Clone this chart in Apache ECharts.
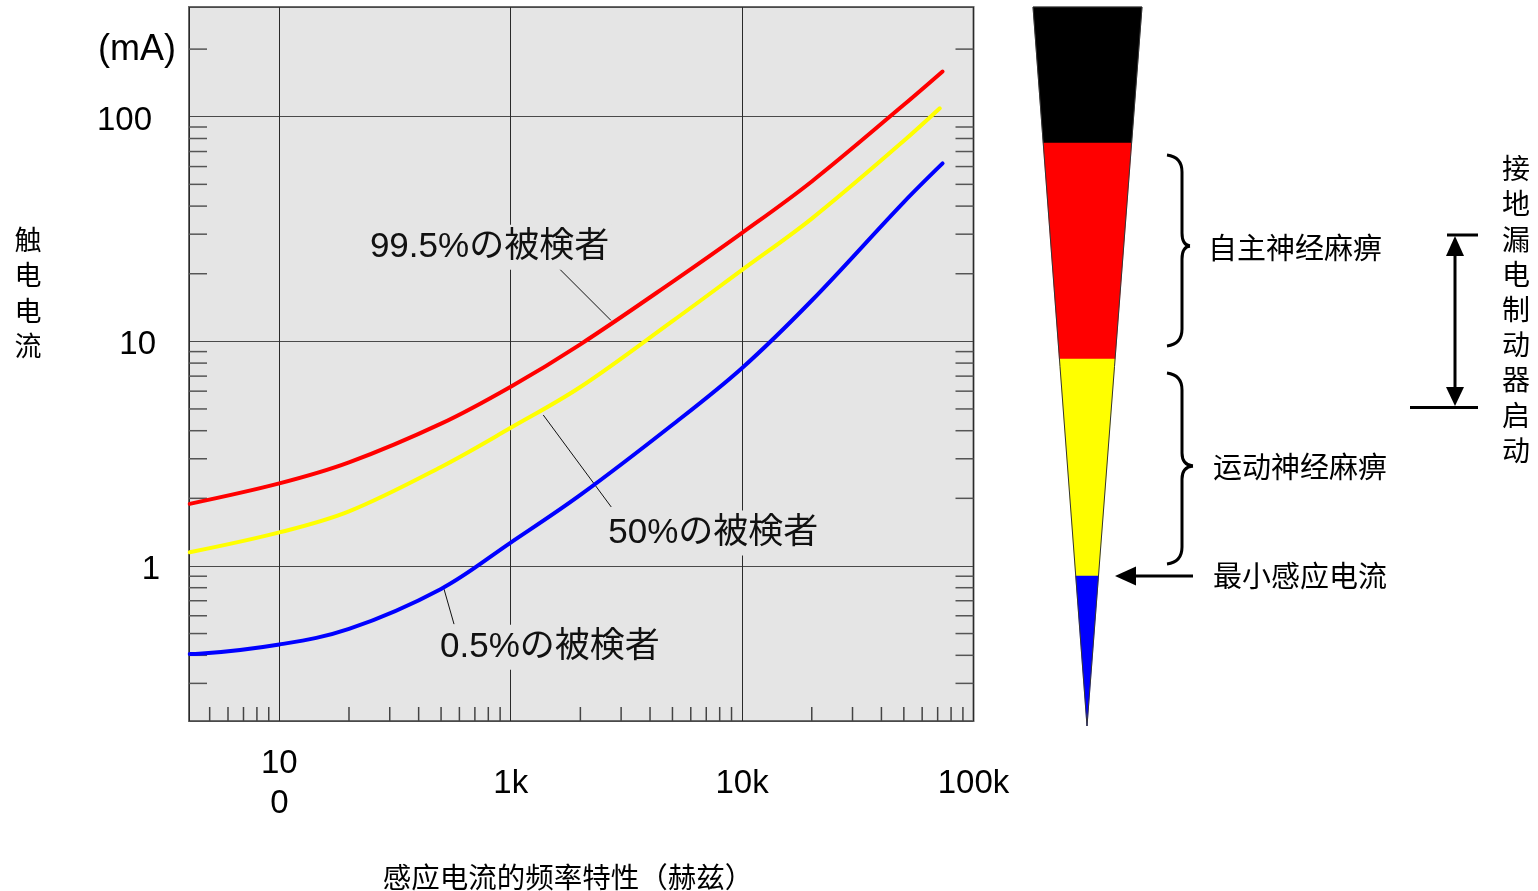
<!DOCTYPE html>
<html><head><meta charset="utf-8">
<script src="https://cdn.jsdelivr.net/npm/echarts@6/dist/echarts.min.js"></script>
<style>html,body{margin:0;padding:0;background:#fff}#c{width:1538px;height:891px}</style>
</head><body><div id="c"></div>
<script>
// ---- data (frequency in Hz, current in mA) ----
const redFreq    = [41, 100, 200, 500, 1000, 2000, 5000, 10000, 20000, 50000, 73500];
const redVal     = [1.89, 2.33, 2.89, 4.30, 6.28, 9.70, 18.4, 30.4, 51.5, 113, 159];
const yellowFreq = [41, 100, 200, 500, 1000, 2000, 5000, 10000, 20000, 50000, 71500];
const yellowVal  = [1.15, 1.41, 1.75, 2.76, 4.12, 6.26, 12.3, 20.8, 35.2, 78.1, 109];
const blueFreq   = [41, 45, 100, 200, 500, 1000, 2000, 5000, 10000, 20000, 50000, 73500];
const blueVal    = [0.405, 0.406, 0.447, 0.524, 0.79, 1.27, 2.07, 4.25, 7.61, 15.2, 41.7, 62.0];

const xMin = 40.7, xMax = 100000;
const yMin = 0.204, yMax = 308;
const xTickLabels = {2: '10\n0', 3: '1k', 4: '10k', 5: '100k'};
const yTickLabels = {0: '1', 1: '10', 2: '100'};
const yUnitLabel = '(mA)';
const yUnitValue = 200;
const xMinorTicks = [50,60,70,80,90,200,300,400,500,600,700,800,900,2000,3000,4000,5000,6000,7000,8000,9000,20000,30000,40000,50000,60000,70000,80000,90000];
const yMinorTicks = [0.3,0.4,0.5,0.6,0.7,0.8,0.9,2,3,4,5,6,7,8,9,20,30,40,50,60,70,80,90,200];

const annoText = ['99.5%の被検者', '50%の被検者', '0.5%の被検者'];
const annoFreq = [2710, 1382, 515];
const annoVal  = [12.4, 4.70, 0.788];

const yAxisTitle = '触电电流';
const xAxisTitle = '感应电流的频率特性（赫兹）';
const wedgeColors = ['#000000', '#ff0000', '#ffff00', '#0000ff'];
const zoneLabels = ['自主神经麻痹', '运动神经麻痹', '最小感应电流'];
const breakerLabel = '接地漏电制动器启动';

// ---- chart ----
const chart = echarts.init(document.getElementById('c'));
const zip = (a, b) => a.map((v, i) => [v, b[i]]);
const PLOT_BG = '#e5e5e5';
const cjk = "'Noto Sans CJK SC'";
const latin = "'Liberation Sans', 'Noto Sans CJK JP'";

function isPow(v) { const l = Math.log10(v); return Math.abs(l - Math.round(l)) < 1e-6 ? Math.round(l) : null; }

// layout of annotations relative to their anchor point (pixels)
const annoLayout = [
  {dx: -54, dy: -54, tx: -243, ty: -73},
  {dx: 68, dy: 92, tx: 63, ty: 118},
  {dx: 10, dy: 35, tx: -6, ty: 58}
];

// wedge geometry (diagram on the right)
const wTop = 7, wApex = 726, wL = 1033, wR = 1142, wX = 1087;
const wBounds = [7, 143, 359, 576, 726];
function wSide(y) { const t = (y - wTop) / (wApex - wTop); return [wL + (wX - wL) * t, wR + (wX - wR) * t]; }
const graphics = [];
for (let i = 0; i < wedgeColors.length; i++) {
  const y0 = wBounds[i], y1 = wBounds[i + 1];
  const a = wSide(y0), b = wSide(y1);
  graphics.push({type: 'polygon', shape: {points: [[a[0], y0], [a[1], y0], [b[1], y1], [b[0], y1]]},
    style: {fill: wedgeColors[i], stroke: wedgeColors[i], lineWidth: 0.5}});
}
graphics.push({type: 'polygon', shape: {points: [[wL, wTop], [wR, wTop], [wX, wApex]]},
  style: {fill: 'none', stroke: '#333', lineWidth: 1}});

function brace(xEnd, xMid, xTip, yTop, yTip, yBot) {
  const st = {stroke: '#000', lineWidth: 3, fill: 'none'};
  return [
    {type: 'bezierCurve', shape: {x1: xEnd, y1: yTop, cpx1: xMid, cpy1: yTop + 2, x2: xMid, y2: yTop + 17}, style: st},
    {type: 'line', shape: {x1: xMid, y1: yTop + 17, x2: xMid, y2: yTip - 13}, style: st},
    {type: 'bezierCurve', shape: {x1: xMid, y1: yTip - 13, cpx1: xMid, cpy1: yTip - 1, x2: xTip, y2: yTip}, style: st},
    {type: 'bezierCurve', shape: {x1: xTip, y1: yTip, cpx1: xMid, cpy1: yTip + 1, x2: xMid, y2: yTip + 13}, style: st},
    {type: 'line', shape: {x1: xMid, y1: yTip + 13, x2: xMid, y2: yBot - 17}, style: st},
    {type: 'bezierCurve', shape: {x1: xMid, y1: yBot - 17, cpx1: xMid, cpy1: yBot - 2, x2: xEnd, y2: yBot}, style: st}
  ];
}
graphics.push(...brace(1167, 1182, 1190, 155, 246, 346));
graphics.push(...brace(1167, 1182, 1193, 373, 466, 564));
const lineSt = {stroke: '#000', lineWidth: 3};
graphics.push({type: 'line', shape: {x1: 1193, y1: 576, x2: 1132, y2: 576}, style: lineSt});
graphics.push({type: 'polygon', shape: {points: [[1115, 576], [1136, 566.5], [1136, 585.5]]}, style: {fill: '#000'}});
graphics.push({type: 'line', shape: {x1: 1455, y1: 252, x2: 1455, y2: 390}, style: lineSt});
graphics.push({type: 'polygon', shape: {points: [[1455, 236], [1446, 256], [1464, 256]]}, style: {fill: '#000'}});
graphics.push({type: 'polygon', shape: {points: [[1455, 406], [1446, 387], [1464, 387]]}, style: {fill: '#000'}});
graphics.push({type: 'line', shape: {x1: 1447, y1: 235, x2: 1478, y2: 235}, style: lineSt});
graphics.push({type: 'line', shape: {x1: 1410, y1: 407.5, x2: 1478, y2: 407.5}, style: lineSt});

function txt(x, y, text, size, align, extra) {
  return {type: 'text', x: x, y: y, style: Object.assign({text: text, font: size + 'px ' + cjk, fill: '#000',
    align: align, textAlign: align, verticalAlign: 'middle', textVerticalAlign: 'middle'}, extra || {})};
}
graphics.push(txt(1208, 248, zoneLabels[0], 29, 'left'));
graphics.push(txt(1213, 467, zoneLabels[1], 29, 'left'));
graphics.push(txt(1213, 576, zoneLabels[2], 29, 'left'));
graphics.push({type: 'text', x: 1516, y: 151, style: {text: breakerLabel.split('').join('\n'), font: '28px ' + cjk, fill: '#000',
  align: 'center', textAlign: 'center', verticalAlign: 'top', textVerticalAlign: 'top', lineHeight: 35.2}});
graphics.push({type: 'text', x: 28, y: 222, style: {text: yAxisTitle.split('').join('\n'), font: '27px ' + cjk, fill: '#000',
  align: 'center', textAlign: 'center', verticalAlign: 'top', textVerticalAlign: 'top', lineHeight: 35.3}});
graphics.push(txt(568, 877, xAxisTitle, 28.5, 'center'));

const richY = (r) => ({fontSize: 33, fontFamily: 'Liberation Sans', color: '#000', padding: [8, r, 0, 0]});

const option = {
  animation: false,
  backgroundColor: '#fff',
  grid: {left: 189, top: 7, width: 784.5, height: 714, show: true, backgroundColor: PLOT_BG, borderColor: '#6a6a6a', borderWidth: 2},
  xAxis: {
    type: 'log', logBase: 10, min: xMin, max: xMax,
    axisLine: {show: false}, axisTick: {show: false},
    splitLine: {show: true, lineStyle: {color: '#2a2a2a', width: 1}},
    axisLabel: {
      color: '#000', fontSize: 33, fontFamily: 'Liberation Sans', margin: 63, verticalAlign: 'middle', lineHeight: 40,
      showMinLabel: true, showMaxLabel: true,
      formatter: v => { const e = isPow(v); return e !== null && xTickLabels[e] !== undefined ? xTickLabels[e] : ''; }
    }
  },
  yAxis: {
    type: 'log', logBase: 10, min: yMin, max: yMax,
    axisLine: {show: false}, axisTick: {show: false},
    splitLine: {show: true, lineStyle: {color: '#4a4a4a', width: 1.2}},
    axisLabel: {
      color: '#000', fontSize: 33, fontFamily: 'Liberation Sans', margin: 29,
      formatter: v => { const e = isPow(v); if (e === null || yTickLabels[e] === undefined) return ''; return '{p' + e + '|' + yTickLabels[e] + '}'; },
      rich: {p2: richY(8), p1: richY(4), p0: richY(0)}
    }
  },
  graphic: {elements: graphics},
  series: [
    {
      type: 'custom', coordinateSystem: 'cartesian2d', silent: true, z: 3,
      data: yMinorTicks.map(v => [xMin, v]),
      renderItem: (params, api) => {
        const p = api.coord([xMin, api.value(1)]);
        const cs = params.coordSys;
        const st = {stroke: '#555', lineWidth: 1.5};
        return {type: 'group', children: [
          {type: 'line', shape: {x1: cs.x, y1: p[1], x2: cs.x + 18, y2: p[1]}, style: st},
          {type: 'line', shape: {x1: cs.x + cs.width - 18, y1: p[1], x2: cs.x + cs.width, y2: p[1]}, style: st}
        ]};
      }
    },
    {
      type: 'custom', coordinateSystem: 'cartesian2d', silent: true, z: 3,
      data: xMinorTicks.map(v => [v, yMin]),
      renderItem: (params, api) => {
        const p = api.coord([api.value(0), yMin]);
        const cs = params.coordSys;
        return {type: 'line', shape: {x1: p[0], y1: cs.y + cs.height - 14, x2: p[0], y2: cs.y + cs.height},
          style: {stroke: '#444', lineWidth: 1.5}};
      }
    },
    {
      type: 'custom', coordinateSystem: 'cartesian2d', silent: true, z: 3,
      data: [[xMin, yUnitValue]],
      renderItem: (params, api) => {
        const p = api.coord([api.value(0), api.value(1)]);
        return {type: 'text', x: p[0] - 13, y: p[1] + 1, style: {text: yUnitLabel, font: "36px 'Liberation Sans'", fill: '#000',
          align: 'right', textAlign: 'right', verticalAlign: 'middle', textVerticalAlign: 'middle'}};
      }
    },
    {
      type: 'custom', coordinateSystem: 'cartesian2d', silent: true, z: 4,
      data: annoFreq.map((f, i) => [f, annoVal[i], i]),
      renderItem: (params, api) => {
        const i = api.value(2);
        const L = annoLayout[i];
        const p = api.coord([api.value(0), api.value(1)]);
        return {type: 'group', children: [
          {type: 'line', shape: {x1: p[0], y1: p[1], x2: p[0] + L.dx, y2: p[1] + L.dy}, style: {stroke: '#111', lineWidth: 1}},
          {type: 'text', x: p[0] + L.tx, y: p[1] + L.ty, style: {text: annoText[i], font: '35px ' + latin, fill: '#111',
            align: 'left', textAlign: 'left', verticalAlign: 'middle', textVerticalAlign: 'middle',
            backgroundColor: PLOT_BG, padding: [5, 2, 5, 2]}}
        ]};
      }
    },
    {type: 'line', name: '99.5%', data: zip(redFreq, redVal), smooth: 0.35, symbol: 'none', z: 5,
      lineStyle: {color: '#ff0000', width: 4, cap: 'round'}},
    {type: 'line', name: '50%', data: zip(yellowFreq, yellowVal), smooth: 0.35, symbol: 'none', z: 5,
      lineStyle: {color: '#ffff00', width: 4, cap: 'round'}},
    {type: 'line', name: '0.5%', data: zip(blueFreq, blueVal), smooth: 0.35, symbol: 'none', z: 5,
      lineStyle: {color: '#0000ff', width: 4, cap: 'round'}}
  ]
};
chart.setOption(option);
</script></body></html>
